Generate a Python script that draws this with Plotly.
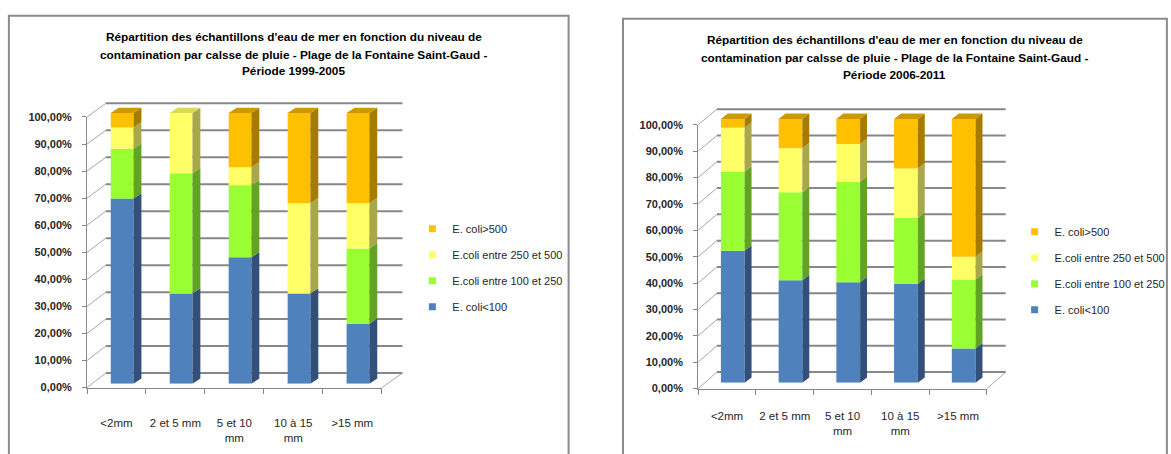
import plotly.graph_objects as go

W, H = 1171, 454

# ---------------- data ----------------
categories = ["<2mm", "2 et 5 mm", "5 et 10<br>mm", "10 à 15<br>mm", ">15 mm"]
series_names = ["E. coli<100", "E.coli entre 100 et 250", "E.coli entre 250 et 500", "E. coli>500"]
y_tick_values = [0, 10, 20, 30, 40, 50, 60, 70, 80, 90, 100]
y_tick_labels = ["0,00%", "10,00%", "20,00%", "30,00%", "40,00%", "50,00%",
                 "60,00%", "70,00%", "80,00%", "90,00%", "100,00%"]

title_left = ["Répartition des échantillons d'eau de mer en fonction du niveau de",
              "contamination par calsse de pluie - Plage de la Fontaine Saint-Gaud -",
              "Période 1999-2005"]
title_right = ["Répartition des échantillons d'eau de mer en fonction du niveau de",
               "contamination par calsse de pluie - Plage de la Fontaine Saint-Gaud -",
               "Période 2006-2011"]

# Période 1999-2005 (%)
p1_lt100 = [68.4, 33.3, 46.7, 33.3, 22.2]
p1_100_250 = [18.4, 44.5, 26.6, 0.0, 27.8]
p1_250_500 = [7.9, 22.2, 6.7, 33.4, 16.7]
p1_gt500 = [5.3, 0.0, 20.0, 33.3, 33.3]

# Période 2006-2011 (%)
p2_lt100 = [50.0, 38.9, 38.1, 37.5, 13.0]
p2_100_250 = [30.0, 33.3, 38.1, 25.0, 26.1]
p2_250_500 = [16.7, 16.7, 14.3, 18.75, 8.7]
p2_gt500 = [3.3, 11.1, 9.5, 18.75, 52.2]

# ---------------- styles ----------------
front_colors = ["#4F81BD", "#99FF33", "#FFFF66", "#FFC000"]
side_colors = ["#33507A", "#62A324", "#A8A84A", "#A67C00"]
top_colors = ["#4472A8", "#86D92E", "#D8D85C", "#CC9900"]
grid_color = "#878787"
FONT = "Liberation Sans"


def fx(px):
    return px / W


def fy(py):
    return 1 - py / H


fig = go.Figure()
shapes = []
annotations = []

panels = [
    dict(vals=[p1_lt100, p1_100_250, p1_250_500, p1_gt500], title=title_left,
         xa="x", ya="y", fxa="x2", fya="y2", legend="legend",
         bar_x0=93.7, bar_x1=391.8, bar_y0=388.0, pxper=2.78, bw=23.0, dxp=8.0, dyp=5.5,
         front_x0=88, front_x1=386, front_y0=392, front_y100=114,
         back_x0=107, back_x1=407, back_y0=377, back_y100=100,
         border=(9, 10, 575, 470), title_cx=297, title_ys=[32, 50, 67],
         leg_x=417, leg_y=214, xlab_standoff=25),
    dict(vals=[p2_lt100, p2_100_250, p2_250_500, p2_gt500], title=title_right,
         xa="x3", ya="y3", fxa="x4", fya="y4", legend="legend2",
         bar_x0=711.8, bar_x1=1003.7, bar_y0=387.0, pxper=2.71, bw=24.0, dxp=7.0, dyp=5.5,
         front_x0=706, front_x1=998, front_y0=393, front_y100=122,
         back_x0=725, back_x1=1017, back_y0=376, back_y100=106,
         border=(630, 13, 1180, 470), title_cx=905, title_ys=[35, 53, 71],
         leg_x=1026, leg_y=217, xlab_standoff=17),
]

YMAX = 106
xs = list(range(len(categories)))

for pi, P in enumerate(panels):
    n = len(categories)
    cat_px = (P["bar_x1"] - P["bar_x0"]) / n
    bw = P["bw"] / cat_px
    dx = P["dxp"] / cat_px
    dy = P["dyp"] / P["pxper"]

    # stacked bars (front faces)
    cum = [0.0] * n
    bounds = []
    for si, vals in enumerate(P["vals"]):
        fig.add_trace(go.Bar(
            x=xs, y=vals, base=cum[:], width=bw, marker=dict(color=front_colors[si], line=dict(width=0)),
            xaxis=P["xa"], yaxis=P["ya"], showlegend=False, name=series_names[si], hoverinfo="skip"))
        lo = cum[:]
        cum = [c + v for c, v in zip(cum, vals)]
        bounds.append((lo, cum[:]))

    # side faces and top caps (3D look), computed from the same data
    for si, (lo, hi) in enumerate(bounds):
        sx, sy, tx, ty = [], [], [], []
        for i in range(n):
            y0, y1 = lo[i], hi[i]
            if y1 - y0 <= 1e-9:
                continue
            xr = i + bw / 2
            sx += [xr, xr + dx, xr + dx, xr, xr, None]
            sy += [y0, y0 + dy, y1 + dy, y1, y0, None]
            if abs(y1 - cum[i]) < 1e-9:
                xl = i - bw / 2
                tx += [xl, xl + dx, xr + dx, xr, xl, None]
                ty += [y1, y1 + dy, y1 + dy, y1, y1, None]
        fig.add_trace(go.Scatter(x=sx, y=sy, mode="lines", fill="toself", fillcolor=side_colors[si],
                                 line=dict(width=0, color=side_colors[si]), xaxis=P["xa"], yaxis=P["ya"],
                                 showlegend=False, hoverinfo="skip"))
        if tx:
            fig.add_trace(go.Scatter(x=tx, y=ty, mode="lines", fill="toself", fillcolor=top_colors[si],
                                     line=dict(width=0, color=top_colors[si]), xaxis=P["xa"], yaxis=P["ya"],
                                     showlegend=False, hoverinfo="skip"))

    # legend entries (top to bottom: >500 ... <100)
    for si in reversed(range(len(series_names))):
        fig.add_trace(go.Scatter(x=[None], y=[None], mode="markers", name=series_names[si],
                                 marker=dict(symbol="square", size=7, color=front_colors[si]),
                                 xaxis=P["fxa"], yaxis=P["fya"], legend=P["legend"],
                                 legendgroup=f"g{pi}{si}", showlegend=True))

    # axes
    ax_n = P["xa"][1:] or ""
    fax_n = P["fxa"][1:]
    layout_upd = {
        f"xaxis{ax_n}": dict(domain=[fx(P["bar_x0"]), fx(P["bar_x1"])], range=[-0.5, n - 0.5],
                             anchor=P["ya"], visible=False, fixedrange=True),
        f"yaxis{ax_n}": dict(domain=[fy(P["bar_y0"]), fy(P["bar_y0"] - YMAX * P["pxper"])],
                             range=[0, YMAX], anchor=P["xa"], visible=False, fixedrange=True),
        f"xaxis{fax_n}": dict(domain=[fx(P["front_x0"]), fx(P["front_x1"])], range=[-0.5, n - 0.5],
                              anchor=P["fya"], showline=True, linecolor=grid_color, linewidth=1,
                              showgrid=False, zeroline=False, tickmode="array", tickvals=xs,
                              ticktext=categories, ticks="", ticklabelstandoff=P["xlab_standoff"],
                              tickfont=dict(family=FONT, size=11.5, color="#262626"),
                              minor=dict(tick0=-0.5, dtick=1, ticks="outside", ticklen=5,
                                         tickcolor=grid_color, showgrid=False)),
        f"yaxis{fax_n}": dict(domain=[fy(P["front_y0"]), fy(P["front_y100"])], range=[0, 100],
                              anchor=P["fxa"], showline=True, linecolor=grid_color, linewidth=1,
                              showgrid=False, zeroline=False, tickmode="array",
                              tickvals=y_tick_values, ticktext=y_tick_labels, ticks="outside",
                              ticklen=4, tickcolor=grid_color, ticklabelstandoff=8,
                              tickfont=dict(family=FONT, size=11, color="#262626", weight="bold")),
    }
    fig.update_layout(**layout_upd)

    # back wall gridlines, side-wall diagonals, floor edge
    for v in y_tick_values:
        yb = P["back_y0"] + (P["back_y100"] - P["back_y0"]) * v / 100
        yf = P["front_y0"] + (P["front_y100"] - P["front_y0"]) * v / 100
        shapes.append(dict(type="line", xref="paper", yref="paper", layer="below",
                           x0=fx(P["back_x0"]), x1=fx(P["back_x1"]), y0=fy(yb), y1=fy(yb),
                           line=dict(color=grid_color, width=2)))
        shapes.append(dict(type="line", xref="paper", yref="paper", layer="below",
                           x0=fx(P["front_x0"]), x1=fx(P["back_x0"]), y0=fy(yf), y1=fy(yb),
                           line=dict(color="#a6a6a6", width=1)))
    shapes.append(dict(type="line", xref="paper", yref="paper", layer="below",
                       x0=fx(P["front_x1"]), x1=fx(P["back_x1"]), y0=fy(P["front_y0"]), y1=fy(P["back_y0"]),
                       line=dict(color="#a6a6a6", width=1)))

    # chart-area border
    bx0, by0, bx1, by1 = P["border"]
    shapes.append(dict(type="rect", xref="paper", yref="paper", layer="below",
                       x0=fx(bx0), x1=fx(bx1), y0=fy(by1), y1=fy(by0),
                       line=dict(color="#8c8c8c", width=2), fillcolor="rgba(0,0,0,0)"))

    # title
    for line_text, ty in zip(P["title"], P["title_ys"]):
        annotations.append(dict(text=line_text, xref="paper", yref="paper", x=fx(P["title_cx"]), y=fy(ty),
                                xanchor="center", yanchor="middle", showarrow=False,
                                font=dict(family=FONT, size=11.8, color="#000000", weight="bold")))

legend_common = dict(xanchor="left", yanchor="top", bgcolor="rgba(0,0,0,0)", borderwidth=0,
                     font=dict(family=FONT, size=11, color="#262626"), tracegroupgap=7,
                     itemwidth=30, traceorder="grouped")

fig.update_layout(
    width=W, height=H, margin=dict(l=0, r=0, t=0, b=0),
    paper_bgcolor="white", plot_bgcolor="rgba(0,0,0,0)",
    barmode="overlay", shapes=shapes, annotations=annotations, showlegend=True,
    legend=dict(x=fx(panels[0]["leg_x"]), y=fy(panels[0]["leg_y"]), **legend_common),
    legend2=dict(x=fx(panels[1]["leg_x"]), y=fy(panels[1]["leg_y"]), **legend_common),
)

fig.write_html("out.html")
